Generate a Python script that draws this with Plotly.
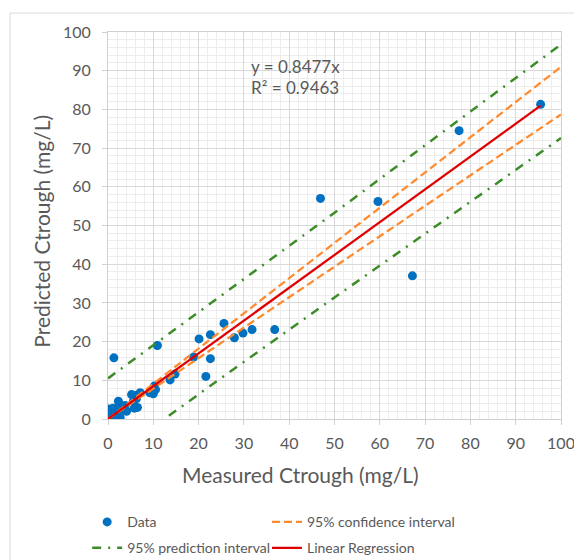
import plotly.graph_objects as go

# ---- data ----
data_x = [95.5, 77.5, 46.9, 59.6, 67.2,
          36.8, 31.8, 29.8, 27.9, 25.6, 22.6, 20.1, 18.9, 22.6, 21.6, 14.8, 13.7, 10.9, 1.3,
          10.2, 10.5, 9.8, 10.0, 9.2, 7.1, 6.0, 5.2, 6.3, 5.6, 6.5, 5.8, 4.1, 3.8, 2.3, 2.6,
          2.7, 1.9, 0.1, 0.4, 0.2, 1.1, 0.6, 3.2, 1.6]
data_y = [81.3, 74.5, 57.0, 56.2, 37.0,
          23.1, 23.1, 22.2, 21.0, 24.7, 21.8, 20.7, 16.0, 15.6, 11.0, 11.6, 10.1, 19.0, 15.8,
          8.5, 7.6, 7.0, 6.5, 6.8, 6.8, 6.1, 6.3, 5.3, 4.6, 3.0, 2.8, 2.0, 3.5, 4.6, 3.6,
          0.4, 1.5, 2.6, 0.7, 1.6, 2.8, 0.2, 2.4, 0.8]

reg_x = [0, 95.5]
reg_y = [0, 80.96]

band_x = [0, 25, 50, 75, 100]
ci_upper = [0, 22.7, 45.4, 68.2, 91.0]
ci_lower = [0, 19.7, 39.4, 59.0, 78.7]
pi_upper = [10.5, 31.8, 53.3, 75.1, 96.8]
pi_lower = [-10.5, 10.6, 31.4, 52.1, 72.6]

x_ticks = [0, 10, 20, 30, 40, 50, 60, 70, 80, 90, 100]
y_ticks = [0, 10, 20, 30, 40, 50, 60, 70, 80, 90, 100]

eq_text = "y = 0.8477x"
r2_text = "R² = 0.9463"

FONT = "Lato"
GREY = "#595959"
BLUE = "#0070C0"
ORANGE = "#FF8A2E"
GREEN = "#3C8C28"
RED = "#E00000"

fig = go.Figure()

fig.add_trace(go.Scatter(x=data_x, y=data_y, mode="markers", name="Data",
                         marker=dict(color=BLUE, size=9), legend="legend", showlegend=True))
fig.add_trace(go.Scatter(x=band_x, y=ci_upper, mode="lines", name="95% confidence interval",
                         line=dict(color=ORANGE, width=2.25, dash="8px,4px"),
                         legendgroup="ci", legend="legend2", showlegend=True))
fig.add_trace(go.Scatter(x=band_x, y=ci_lower, mode="lines", name="95% confidence interval",
                         line=dict(color=ORANGE, width=2.25, dash="8px,4px"),
                         legendgroup="ci", showlegend=False, legend="legend2"))
fig.add_trace(go.Scatter(x=band_x, y=pi_upper, mode="lines", name="95% prediction interval",
                         line=dict(color=GREEN, width=2.5, dash="9px,7px,2px,7px"),
                         legendgroup="pi", legend="legend3", showlegend=True))
fig.add_trace(go.Scatter(x=band_x, y=pi_lower, mode="lines", name="95% prediction interval",
                         line=dict(color=GREEN, width=2.5, dash="9px,7px,2px,7px"),
                         legendgroup="pi", showlegend=False, legend="legend3"))
fig.add_trace(go.Scatter(x=reg_x, y=reg_y, mode="lines", name="Linear Regression",
                         line=dict(color=RED, width=2.25), legend="legend4", showlegend=True))

axis_common = dict(
    showgrid=True, gridcolor="#D9D9D9", gridwidth=1,
    showline=True, linecolor="#D0D0D0", linewidth=1, mirror=True,
    ticks="outside", ticklen=5, tickcolor="#D0D0D0",
    tickfont=dict(family=FONT, size=16, color=GREY),
    zeroline=False,
    minor=dict(dtick=2, showgrid=True, gridcolor="#EDEDED", gridwidth=1, ticks=""),
)

fig.update_xaxes(range=[0, 100], tickvals=x_ticks, ticktext=[str(v) for v in x_ticks],
                 ticklabelstandoff=5, **axis_common)
fig.update_yaxes(range=[0, 100], tickvals=y_ticks, ticktext=[str(v) for v in y_ticks],
                 ticklabelstandoff=8, **axis_common)

legend_common = dict(orientation="h", xanchor="left", yanchor="middle",
                     font=dict(family=FONT, size=14, color=GREY),
                     bgcolor="rgba(0,0,0,0)", itemwidth=30)

col1_x = -0.046
col2_x = 0.351
row1_y = -0.267
row2_y = -0.334

# page body has an 8px margin, so the figure is 8px smaller than the window
fig.update_layout(
    width=574, height=552,
    showlegend=True,
    margin=dict(l=100, r=21, t=24, b=140.5, autoexpand=False),
    paper_bgcolor="white", plot_bgcolor="white",
    legend=dict(x=col1_x, y=row1_y, visible=True, **legend_common),
    legend2=dict(x=col2_x, y=row1_y, **legend_common),
    legend3=dict(x=col1_x, y=row2_y, **legend_common),
    legend4=dict(x=col2_x, y=row2_y, **legend_common),
    shapes=[dict(type="rect", xref="paper", yref="paper",
                 x0=(10 - 108) / 453, x1=(600 - 108) / 453,
                 y0=(419.5 - 600) / 387.5, y1=(419.5 - 13) / 387.5,
                 line=dict(color="#D9D9D9", width=1), layer="below")],
    annotations=[
        dict(text=eq_text, xref="paper", yref="paper", x=(249 - 108) / 453, y=(419.5 - 67) / 387.5,
             xanchor="left", yanchor="middle", showarrow=False,
             font=dict(family=FONT, size=17, color=GREY)),
        dict(text=r2_text, xref="paper", yref="paper", x=(249 - 108) / 453, y=(419.5 - 88) / 387.5,
             xanchor="left", yanchor="middle", showarrow=False,
             font=dict(family=FONT, size=17, color=GREY)),
        dict(text="Measured Ctrough (mg/L)", xref="paper", yref="paper",
             x=(300 - 108) / 453, y=(419.5 - 475) / 387.5,
             xanchor="center", yanchor="middle", showarrow=False,
             font=dict(family=FONT, size=21, color=GREY)),
        dict(text="Predicted Ctrough (mg/L)", xref="paper", yref="paper",
             x=(42 - 108) / 453, y=(419.5 - 232) / 387.5, textangle=-90,
             xanchor="center", yanchor="middle", showarrow=False,
             font=dict(family=FONT, size=21, color=GREY)),
    ],
)

fig.write_html("out.html")
